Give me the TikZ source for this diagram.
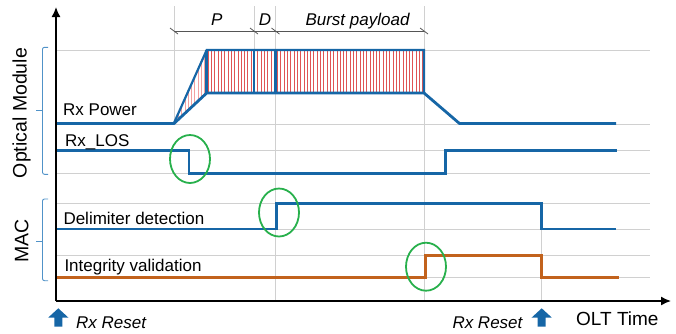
\documentclass[tikz,border=0pt]{standalone}
\usepackage{fontspec}
\setmainfont{Liberation Sans}
\usetikzlibrary{arrows.meta}
\definecolor{sigblue}{RGB}{22,102,166}
\definecolor{sigorange}{RGB}{194,98,28}
\definecolor{ringgreen}{RGB}{40,176,76}
\definecolor{gridgray}{RGB}{208,208,208}
\definecolor{bracecol}{RGB}{80,146,200}
\definecolor{hatchred}{RGB}{224,84,84}
\definecolor{hatchpink}{RGB}{242,160,160}
\definecolor{dimgray}{RGB}{85,85,85}
\tikzset{
  gridline/.style={draw=gridgray, line width=0.9pt},
  signal/.style={draw=sigblue, line width=2.8pt, line join=miter},
  envtop/.style={draw=sigblue, line width=2.2pt, line join=miter},
  orangesig/.style={draw=sigorange, line width=2.5pt},
  ring/.style={draw=ringgreen, line width=1.8pt},
  bracket/.style={draw=bracecol, line width=0.9pt, rounded corners=2pt},
  axisline/.style={draw=black, line width=1.5pt, -{Latex[length=10pt,width=9pt]}},
  lbl/.style={font=\fontsize{17}{20}\selectfont, inner sep=0pt},
  dimlbl/.style={font=\fontsize{17}{20}\selectfont\itshape, inner sep=0pt},
  grouplbl/.style={font=\fontsize{19.5}{22}\selectfont, inner sep=0pt, rotate=90},
  resetarrow/.style={fill=sigblue, draw=none},
  dimline/.style={draw=dimgray, line width=0.8pt},
}
\begin{document}
\begin{tikzpicture}[x=1pt, y=-1pt]
\useasboundingbox (0,0) rectangle (676,333);

% horizontal grid lines at the signal levels
\foreach \y in {50,124,150.7,173.3,203.3,229,255.7,277.7}
  \draw[gridline] (56,\y) -- (650,\y);
% vertical grid lines at the event times
\draw[gridline] (174,6) -- (174,123);
\draw[gridline] (254,6) -- (254,93);
\draw[gridline] (275.5,6) -- (275.5,301);
\draw[gridline] (424,6) -- (424,301);
\draw[gridline] (541.7,203) -- (541.7,301);

% dimension line for P / D / burst payload
\coordinate (d0) at (174,31);
\coordinate (d1) at (254,31);
\coordinate (d2) at (275.5,31);
\coordinate (d3) at (424,31);
\draw[dimline] (d0) -- (d3);
\foreach \c in {d0,d1,d2,d3}
  \draw[dimline] ([xshift=-4pt,yshift=3pt]\c) -- ([xshift=4pt,yshift=-3pt]\c);
\node[dimlbl, anchor=base] (pl) at (216.7,25.7) {P};
\node[dimlbl, anchor=base] (dl) at (265,25.7) {D};
\node[dimlbl, anchor=base] (bl) at (357.5,25.7) {Burst payload};

% hatched optical power envelope
\foreach \x in {208.2,211.5,...,423}
  \draw[hatchred, line width=0.75pt] (\x,50) -- (\x,93);
\begin{scope}
  \clip (174,123) -- (206.7,50) -- (206.7,93) -- cycle;
  \foreach \x in {175,178.3,...,207}
    \draw[hatchpink, line width=0.75pt] (\x,40) -- (\x,130);
\end{scope}
\draw[envtop] (174,123) -- (206.7,50) -- (424,50) -- (424,93);
\foreach \x in {206.7,254,275.5}
  \draw[signal] (\x,50) -- (\x,93);

% Rx power
\draw[signal] (56,123.5) -- (174,123.5) -- (206.7,93) -- (424,93) -- (459.5,123.5) -- (616,123.5);
% Rx_LOS
\draw[signal] (56,150.7) -- (189,150.7) -- (189,173.3) -- (445.7,173.3) -- (445.7,150.7) -- (616.7,150.7);
% delimiter detection
\draw[signal] (56,229) -- (276.7,229) -- (276.7,203.3) -- (541.7,203.3) -- (541.7,229) -- (616,229);
% integrity validation
\draw[orangesig] (56,277.7) -- (425.7,277.7) -- (425.7,255.7) -- (541.7,255.7) -- (541.7,277.7) -- (618.7,277.7);

% highlighted transitions
\draw[ring] (190,159) ellipse [x radius=20, y radius=24];
\draw[ring] (279,212.5) ellipse [x radius=20, y radius=24];
\draw[ring] (426,266.7) ellipse [x radius=20, y radius=24];

% signal labels
\node[lbl, anchor=base west] (rxp) at (63,115) {Rx Power};
\node[lbl, anchor=base west] (los) at (65,146.7) {Rx\_LOS};
\node[lbl, anchor=base west] (del) at (63.3,224) {Delimiter detection};
\node[lbl, anchor=base west] (int) at (64.3,271) {Integrity validation};

% group brackets
\draw[bracket] (48,47.3) -| (42.5,110.7);
\draw[bracket] (42.5,110.7) |- (48,174.3);
\draw[draw=bracecol, line width=0.9pt] (42.5,110.7) -- (35.5,110.7);
\draw[bracket] (48,199) -| (42.5,241);
\draw[bracket] (42.5,241) |- (48,280.7);
\draw[draw=bracecol, line width=0.9pt] (42.5,241) -- (35.5,241);
\node[grouplbl] (om) at (21.7,113) {Optical Module};
\node[grouplbl] (mac) at (21.7,241) {MAC};

% axes
\coordinate (o) at (56,301);
\draw[axisline] (o) -- (56,7);
\draw[axisline] (o) -- (671,301);

% reset markers
\foreach \cx in {58.3,541.7}
  \fill[resetarrow] (\cx,308.3) -- (\cx+10,317.5) -- (\cx+4,317.5) -- (\cx+4,326.5)
    -- (\cx-4,326.5) -- (\cx-4,317.5) -- (\cx-10,317.5) -- cycle;
\node[dimlbl, anchor=base west] (rst1) at (76,328.3) {Rx Reset};
\node[dimlbl, anchor=base west] (rst2) at (452.3,328.3) {Rx Reset};
\node[lbl, font=\fontsize{19}{22}\selectfont, anchor=base west] (olt) at (576,325.7) {OLT Time};
\end{tikzpicture}
\end{document}
